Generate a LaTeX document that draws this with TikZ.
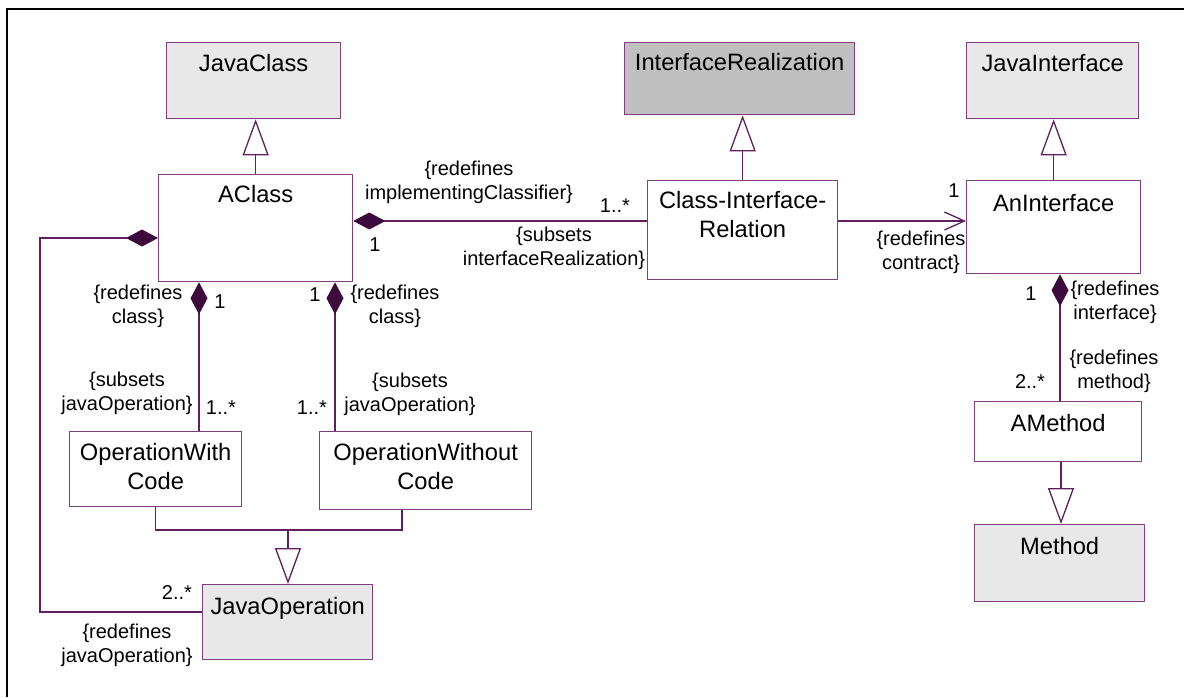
\documentclass[tikz,border=0pt]{standalone}
\usepackage{fontspec}
\setmainfont{Liberation Sans}
\usetikzlibrary{arrows.meta}

\definecolor{boxc}{RGB}{128,64,128}
\definecolor{linec}{RGB}{96,32,96}
\definecolor{diac}{RGB}{61,10,61}
\definecolor{lightfill}{RGB}{232,232,232}
\definecolor{darkfill}{RGB}{192,192,192}

\newcommand{\clsfont}{\fontsize{23.7}{29}\selectfont}
\newcommand{\lblfont}{\fontsize{20}{24}\selectfont}

\begin{document}
\begin{tikzpicture}[x=1pt, y=-1pt,
    cls/.style={draw=boxc, line width=1.3pt, fill=white, anchor=north west, inner sep=0pt},
    lib/.style={cls, fill=lightfill},
    cname/.style={font=\clsfont, anchor=north, inner sep=0pt, align=center, yshift=-#1},
    cname/.default=12.5pt,
    lbl/.style={font=\lblfont, align=center, inner sep=0pt},
    conn/.style={draw=linec, line width=1.3pt},
    gen/.style={conn, -{Triangle[open, length=36pt, width=26pt, fill=white]}},
    comp/.style={conn, {Diamond[length=32pt, width=17pt, color=diac, fill=diac]}-},
    nav/.style={conn, -{Straight Barb[length=20pt, width=18pt]}},
    frame/.style={line width=2.2pt}
]
\useasboundingbox (0,0) rectangle (1184,697);

% Frame (only top and left edge are in the picture)
\draw[frame] (7,697) -- (7,9) -- (1184,9);

% Library classes
\node[lib, minimum width=174pt, minimum height=76pt, label={[cname]north:JavaClass}] (jc) at (166,42) {};
\node[lib, fill=darkfill, minimum width=230pt, minimum height=72pt, label={[cname=11.6pt]north:InterfaceRealization}] (ir) at (624,42) {};
\node[lib, minimum width=172pt, minimum height=76pt, label={[cname]north:JavaInterface}] (ji) at (966,42) {};
\node[lib, minimum width=170pt, minimum height=77pt, label={[cname=13.6pt]north:Method}] (me) at (974,524) {};
\node[lib, minimum width=170pt, minimum height=75pt, label={[cname=13.6pt]north:JavaOperation}] (jo) at (202,584) {};

% Pattern classes
\node[cls, minimum width=194pt, minimum height=107pt, label={[cname=10.8pt]north:AClass}] (ac) at (158,174) {};
\node[cls, minimum width=190pt, minimum height=99pt, label={[cname=11.6pt]north:{Class-Interface-\\Relation}}] (cir) at (647,180) {};
\node[cls, minimum width=174pt, minimum height=93pt, label={[cname=14.5pt]north:AnInterface}] (ai) at (966,180) {};
\node[cls, minimum width=172pt, minimum height=75pt, label={[cname]north:{OperationWith\\Code}}] (owc) at (69,431) {};
\node[cls, minimum width=212pt, minimum height=78pt, label={[cname]north:{OperationWithout\\Code}}] (owoc) at (319,431) {};
\node[cls, minimum width=167pt, minimum height=60pt, label={[cname=13.6pt]north:AMethod}] (am) at (974,401) {};

% Helper coordinates for the connector routes
\coordinate (ry) at (0,221);
\coordinate (lt) at (40,238);
\coordinate (lb) at (40,612);
\coordinate (dx1) at (199,0);
\coordinate (dx2) at (335,0);
\coordinate (ix) at (1060,0);
\coordinate (mx) at (1061,0);
\coordinate (wx) at (402,0);
\coordinate (gj) at (288,530);

% Generalizations
\draw[gen] (ac.north) -- (ac.north |- jc.south);
\draw[gen] (cir.north) -- (cir.north |- ir.south);
\draw[gen] (ai.north) -- (ai.north |- ji.south);
\draw[gen] (am.south -| mx) -- (me.north -| mx);
\draw[conn] (owc.south) |- (gj) -| (owoc.south -| wx);
\draw[gen] (gj) -- (jo.north -| gj);

% Compositions and the navigable association
\draw[comp] (ac.east |- ry) -- (cir.west |- ry);
\draw[nav] (cir.east |- ry) -- (ai.west |- ry);
\draw[comp] (ac.west |- lt) -- (lt) -- (lb) -- (jo.west |- lb);
\draw[comp] (ac.south -| dx1) -- (owc.north -| dx1);
\draw[comp] (ac.south -| dx2) -- (owoc.north -| dx2);
\draw[comp] (ai.south -| ix) -- (am.north -| ix);

% Role names and multiplicities
\node[lbl] (r-impl) at (469,182) {\{redefines\\implementingClassifier\}};
\node[lbl] (m-ac1) at (375,245) {1};
\node[lbl] (r-ireal) at (554,248) {\{subsets\\interfaceRealization\}};
\node[lbl] (m-cir) at (615,206) {1..*};
\node[lbl] (r-contract) at (921,252) {\{redefines\\contract\}};
\node[lbl] (m-ai1) at (954,191) {1};
\node[lbl] (m-ai2) at (1031,294) {1};
\node[lbl] (r-iface) at (1115,302) {\{redefines\\interface\}};
\node[lbl] (r-method) at (1114,371) {\{redefines\\method\}};
\node[lbl] (m-am) at (1030,382) {2..*};

\node[lbl] (r-cls1) at (138,306) {\{redefines\\class\}};
\node[lbl] (m-cls1) at (220,302) {1};
\node[lbl] (m-cls2) at (315,295) {1};
\node[lbl] (r-cls2) at (395,306) {\{redefines\\class\}};
\node[lbl] (r-op1) at (127,393) {\{subsets\\javaOperation\}};
\node[lbl] (m-op1) at (221,408) {1..*};
\node[lbl] (m-op2) at (312,408) {1..*};
\node[lbl] (r-op2) at (410,394) {\{subsets\\javaOperation\}};
\node[lbl] (m-jo) at (177,593) {2..*};
\node[lbl] (r-jo) at (127,645) {\{redefines\\javaOperation\}};

\end{tikzpicture}
\end{document}
